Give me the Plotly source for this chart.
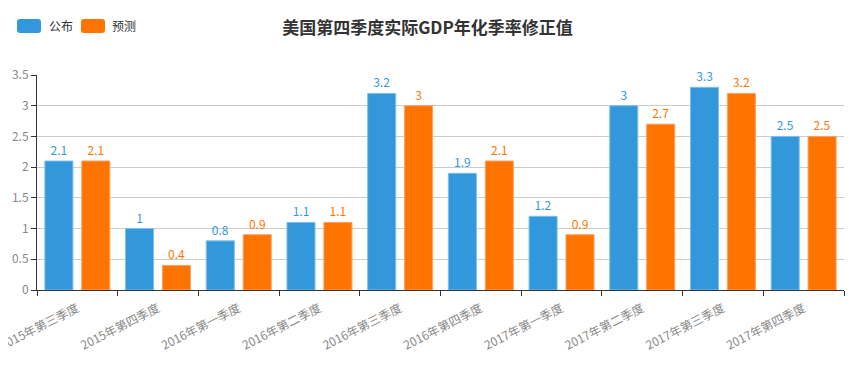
import plotly.graph_objects as go

categories = ["2015年第三季度", "2015年第四季度", "2016年第一季度", "2016年第二季度",
              "2016年第三季度", "2016年第四季度", "2017年第一季度", "2017年第二季度",
              "2017年第三季度", "2017年第四季度"]
published = [2.1, 1, 0.8, 1.1, 3.2, 1.9, 1.2, 3, 3.3, 2.5]
forecast = [2.1, 0.4, 0.9, 1.1, 3, 2.1, 0.9, 2.7, 3.2, 2.5]
y_ticks = [0, 0.5, 1, 1.5, 2, 2.5, 3, 3.5]
series_names = ["公布", "预测"]

BLUE = "#3398DB"
ORANGE = "#FF7400"
FONT = "Noto Sans CJK SC"

# figure geometry (page has an 8px body margin)
W, H = 846, 357
ML, MR, MT, MB = 29, 10, 67, 75
PW, PH = W - ML - MR, H - MT - MB


def px_x(x):
    return (x - ML) / PW


def px_y(y):
    return (H - MB - y) / PH


fig = go.Figure()
fig.add_trace(go.Bar(
    name=series_names[0], x=categories, y=published, marker_color=BLUE,
    marker_line=dict(color="#7fc0ea", width=1),
    text=[str(v) for v in published], textposition="outside",
    textfont=dict(color=BLUE, size=12), cliponaxis=False,
))
fig.add_trace(go.Bar(
    name=series_names[1], x=categories, y=forecast, marker_color=ORANGE,
    marker_line=dict(color="#ffa060", width=1),
    text=[str(v) for v in forecast], textposition="outside",
    textfont=dict(color=ORANGE, size=12), cliponaxis=False,
))

# custom legend: rounded rectangles + labels
shapes = []
annotations = []
for (x0, x1, color, name, tx) in [(9, 33, BLUE, series_names[0], 39),
                                   (73, 97, ORANGE, series_names[1], 102)]:
    y0, y1, r = 11, 25, 3
    path = (f"M {px_x(x0 + r)},{px_y(y0)} L {px_x(x1 - r)},{px_y(y0)} "
            f"Q {px_x(x1)},{px_y(y0)} {px_x(x1)},{px_y(y0 + r)} "
            f"L {px_x(x1)},{px_y(y1 - r)} Q {px_x(x1)},{px_y(y1)} {px_x(x1 - r)},{px_y(y1)} "
            f"L {px_x(x0 + r)},{px_y(y1)} Q {px_x(x0)},{px_y(y1)} {px_x(x0)},{px_y(y1 - r)} "
            f"L {px_x(x0)},{px_y(y0 + r)} Q {px_x(x0)},{px_y(y0)} {px_x(x0 + r)},{px_y(y0)} Z")
    shapes.append(dict(type="path", path=path, xref="paper", yref="paper",
                       fillcolor=color, line=dict(width=0), layer="above"))
    annotations.append(dict(text=name, x=px_x(tx), y=px_y(18), xref="paper", yref="paper",
                            xanchor="left", yanchor="middle", showarrow=False,
                            font=dict(size=12, color="#333", family=FONT)))

fig.update_layout(
    width=W, height=H,
    margin=dict(l=ML, r=MR, t=MT, b=MB),
    paper_bgcolor="white", plot_bgcolor="white",
    font=dict(family=FONT, size=12, color="#666"),
    title=dict(text="<b>美国第四季度实际GDP年化季率修正值</b>", x=419.5 / W, xanchor="center",
               y=1 - 20 / H, yanchor="middle",
               font=dict(size=17, color="#333", family=FONT)),
    barmode="group", bargap=0.085, bargroupgap=0.24,
    showlegend=False,
    shapes=shapes, annotations=annotations,
    xaxis=dict(
        type="category", tickson="boundaries", ticks="outside", ticklen=5,
        tickcolor="#333", showline=True, linecolor="#333", linewidth=1,
        tickangle=-27, tickfont=dict(size=12, color="#888"), showgrid=False,
        ticklabelstandoff=6, automargin=False,
    ),
    yaxis=dict(
        range=[0, 3.5], tickvals=y_ticks, ticktext=[f"{v:g}" for v in y_ticks],
        ticks="outside", ticklen=5, tickcolor="#333",
        showline=True, linecolor="#333", linewidth=1,
        showgrid=True, gridcolor="#ccc", gridwidth=1, zeroline=False,
        tickfont=dict(size=12, color="#888"), automargin=False,
    ),
)

fig.write_html("out.html")
